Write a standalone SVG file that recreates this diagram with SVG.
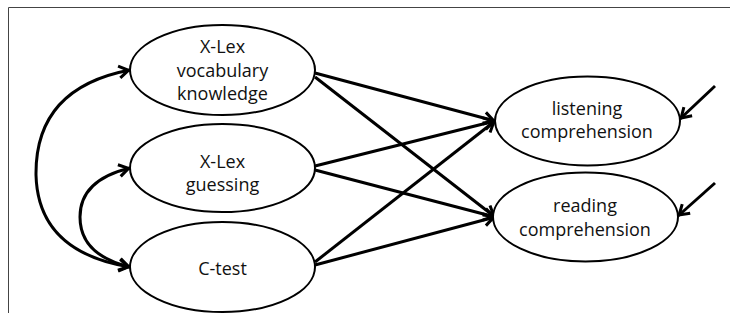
<svg xmlns="http://www.w3.org/2000/svg" width="730" height="321" viewBox="0 0 730 321">
<defs>
<style>
.node ellipse{fill:#fff;stroke:#000;stroke-width:2}
.node text{font-family:"Open Sans","Liberation Sans",sans-serif;font-size:18px;fill:#111;text-anchor:middle}
.conn path,.conn line{fill:none;stroke:#000;stroke-width:3}
.frame{stroke:#444;stroke-width:1;fill:none}
</style>
<marker id="arr" viewBox="-14 -10 16 20" markerWidth="16" markerHeight="20" refX="0" refY="0" orient="auto-start-reverse" markerUnits="userSpaceOnUse">
<path d="M-11,-6 L-1.5,0 L-11,6" fill="none" stroke="#000" stroke-width="3"/>
</marker>
</defs>
<rect width="730" height="321" fill="#fff"/>
<path class="frame" d="M8.5,313 V7.5 H730"/>
<g class="conn">
<line x1="315" y1="73" x2="495" y2="121" marker-end="url(#arr)"/>
<line x1="315" y1="77" x2="495" y2="217" marker-end="url(#arr)"/>
<line x1="315" y1="166" x2="495" y2="121" marker-end="url(#arr)"/>
<line x1="315" y1="170" x2="495" y2="217" marker-end="url(#arr)"/>
<line x1="315" y1="262" x2="495" y2="121" marker-end="url(#arr)"/>
<line x1="315" y1="265" x2="495" y2="217" marker-end="url(#arr)"/>
<line x1="715" y1="86" x2="680" y2="119" marker-end="url(#arr)"/>
<line x1="715" y1="183" x2="678" y2="216" marker-end="url(#arr)"/>
<path d="M130,70 Q35,88 36,175 Q38,252 130,267" marker-start="url(#arr)" marker-end="url(#arr)"/>
<path d="M130,168 Q80,180 80,217 Q80,255 130,267" marker-start="url(#arr)" marker-end="url(#arr)"/>
</g>
<g id="vocab" class="node">
<ellipse cx="222.5" cy="70" rx="92.5" ry="45"/>
<text x="222.5" y="53">X-Lex</text>
<text x="222.5" y="77">vocabulary</text>
<text x="222.5" y="100">knowledge</text>
</g>
<g id="guessing" class="node">
<ellipse cx="222.5" cy="168" rx="92.5" ry="44"/>
<text x="222.5" y="168">X-Lex</text>
<text x="222.5" y="191">guessing</text>
</g>
<g id="ctest" class="node">
<ellipse cx="222.5" cy="267" rx="92.5" ry="45"/>
<text x="222.5" y="275">C-test</text>
</g>
<g id="listening" class="node">
<ellipse cx="587.5" cy="121" rx="92.5" ry="44.5"/>
<text x="587" y="115">listening</text>
<text x="587" y="138">comprehension</text>
</g>
<g id="reading" class="node">
<ellipse cx="585.5" cy="217" rx="92.5" ry="44.5"/>
<text x="585" y="212">reading</text>
<text x="585" y="236">comprehension</text>
</g>
</svg>
